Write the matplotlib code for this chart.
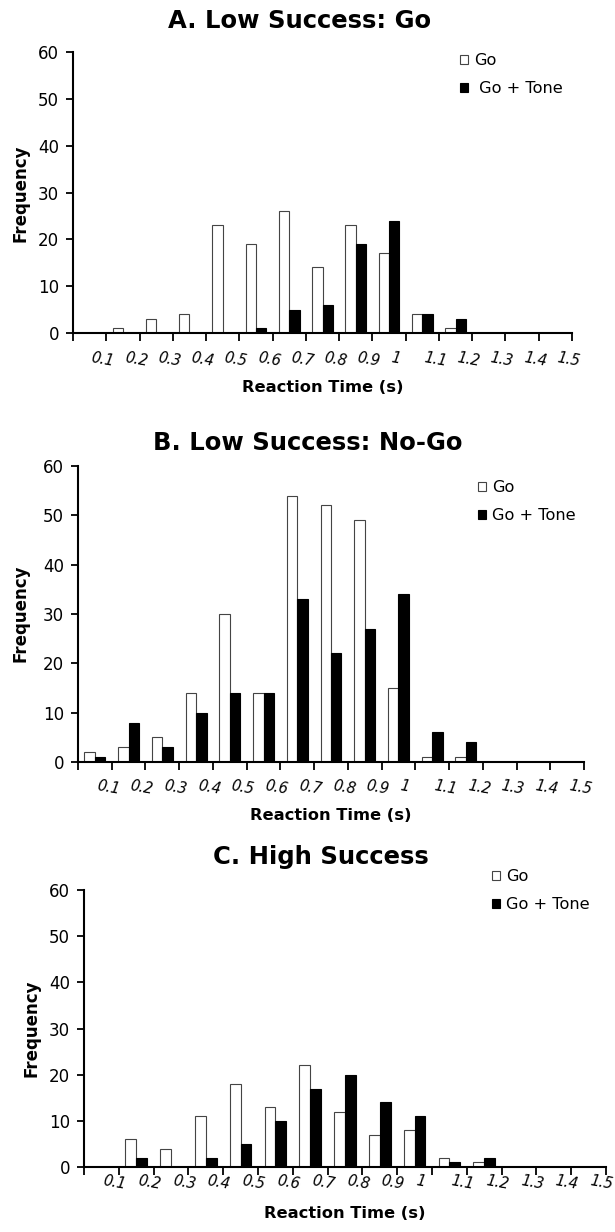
import matplotlib.pyplot as plt
import numpy as np

plt.rcParams['font.family'] = ['DejaVu Sans']

# upper edges of the reaction-time bins (s)
bins = ['0.1', '0.2', '0.3', '0.4', '0.5', '0.6', '0.7', '0.8', '0.9', '1',
        '1.1', '1.2', '1.3', '1.4', '1.5']

# A. Low Success: Go
a_go = [0, 1, 3, 4, 23, 19, 26, 14, 23, 17, 4, 1, 0, 0, 0]
a_tone = [0, 0, 0, 0, 0, 1, 5, 6, 19, 24, 4, 3, 0, 0, 0]
# B. Low Success: No-Go
b_go = [2, 3, 5, 14, 30, 14, 54, 52, 49, 15, 1, 1, 0, 0, 0]
b_tone = [1, 8, 3, 10, 14, 14, 33, 22, 27, 34, 6, 4, 0, 0, 0]
# C. High Success
c_go = [0, 6, 4, 11, 18, 13, 22, 12, 7, 8, 2, 1, 0, 0, 0]
c_tone = [0, 2, 0, 2, 5, 10, 17, 20, 14, 11, 1, 2, 0, 0, 0]

panels = [
    ('A. Low Success: Go', a_go, a_tone, ' Go + Tone'),
    ('B. Low Success: No-Go', b_go, b_tone, 'Go + Tone'),
    ('C. High Success', c_go, c_tone, 'Go + Tone'),
]

# layout in pixels of the 615x1232 picture
W, H = 615, 1232
axes_px = [(73, 52, 572, 333), (78, 466, 584, 762), (84, 890, 606, 1167)]
title_px = [(300, 21), (308, 443), (321, 857)]
xlab_px = [(323, 388), (331, 815), (345, 1213)]
ylab_px = [(21, 193), (21, 613), (31, 1028)]
leg_px = [(460, 53), (478, 480), (492, 869)]
xpad = [18, 17, 10]

fig = plt.figure(figsize=(W / 100, H / 100), dpi=100)

for k, (title, go, tone, tone_label) in enumerate(panels):
    l, t, r, b = axes_px[k]
    ax = fig.add_axes([l / W, 1 - b / H, (r - l) / W, (b - t) / H])
    x = np.arange(len(bins)) + 0.5
    h1 = ax.bar(x - 0.155, go, width=0.31, color='white', edgecolor='#444444', linewidth=0.8, label='Go')
    h2 = ax.bar(x + 0.155, tone, width=0.31, color='black', edgecolor='black', linewidth=0.8, label=tone_label)

    ax.set_xlim(0, len(bins))
    ax.set_ylim(0, 60)
    ax.set_yticks(range(0, 61, 10))
    ax.spines['top'].set_visible(False)
    ax.spines['right'].set_visible(False)
    for s in ('left', 'bottom'):
        ax.spines[s].set_linewidth(1.5)
    ax.tick_params(axis='y', direction='out', length=5, width=1.3, labelsize=12, pad=5)

    # tick marks at the bin edges, labels hang from the middle of each bin
    ax.set_xticks(np.arange(len(bins) + 1), minor=True)
    ax.set_xticks(x + 0.05)
    ax.set_xticklabels(bins, rotation=-10, style='italic', fontsize=10.5,
                       ha='left', va='center', rotation_mode='anchor')
    ax.tick_params(axis='x', which='minor', direction='out', length=6, width=1.3)
    ax.tick_params(axis='x', which='major', length=0, pad=xpad[k])

    fig.text(title_px[k][0] / W, 1 - title_px[k][1] / H, title, ha='center', va='center',
             fontsize=17.5, fontweight='bold')
    fig.text(xlab_px[k][0] / W, 1 - xlab_px[k][1] / H, 'Reaction Time (s)', ha='center', va='center',
             fontsize=11.7, fontweight='bold')
    fig.text(ylab_px[k][0] / W, 1 - ylab_px[k][1] / H, 'Frequency', ha='center', va='center',
             rotation=90, fontsize=12, fontweight='bold')

    ax.legend(handles=[h1, h2], loc='upper left', frameon=False, fontsize=11.6,
              bbox_to_anchor=(leg_px[k][0] / W, 1 - leg_px[k][1] / H), bbox_transform=fig.transFigure,
              handlelength=0.5, handleheight=0.5, handletextpad=0.35, labelspacing=0.8, borderpad=0,
              borderaxespad=0)

fig.savefig('out.png', dpi=100)
